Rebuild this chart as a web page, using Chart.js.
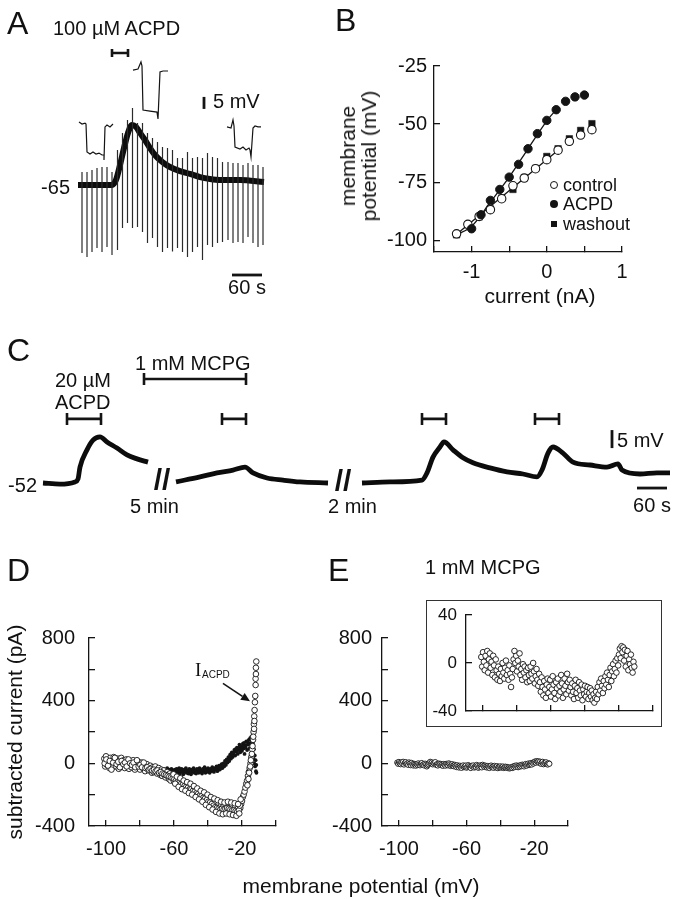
<!DOCTYPE html>
<html><head><meta charset="utf-8">
<script src="https://cdn.jsdelivr.net/npm/chart.js@4.4.1/dist/chart.umd.min.js"></script>
<style>
html,body{margin:0;padding:0;background:#fff;}
#wrap{position:relative;width:678px;height:899px;overflow:hidden;font-family:"Liberation Sans",Arial,sans-serif;color:#111;}
canvas{position:absolute;left:0;top:0;}
.t{position:absolute;line-height:1;white-space:nowrap;}
</style></head><body><div id="wrap"></div>
<script>
// ---------- Panel A : trace (time s, membrane potential mV) ----------
const aTraceT = [0, 68, 76, 84, 92, 100, 108, 116, 124, 134, 144, 154, 164, 174, 184, 204, 224, 244, 264, 284, 324, 372];
const aTraceV = [-65, -65, -62.9, -56.7, -49.6, -43.3, -40.0, -40.8, -43.3, -46.25, -49.6, -52.5, -54.6, -56.25, -57.5, -59.2, -60.4, -61.7, -62.5, -62.9, -62.9, -63.75];
const aPulseT = [8, 18, 28, 38, 48, 58, 68, 79, 89, 99, 109, 119, 129, 139, 149, 159, 169, 179, 189, 199, 209, 219, 229, 239, 249, 259, 269, 279, 289, 300, 310, 320, 330, 340, 350, 360, 370];
const aPulseMin = [-93.3, -95.0, -92.9, -91.3, -92.9, -90.8, -94.2, -92.1, -82.9, -80.8, -82.9, -82.5, -84.6, -89.2, -87.1, -90.8, -92.9, -91.3, -92.7, -91.3, -92.9, -95.0, -92.9, -90.8, -96.3, -90.0, -90.8, -89.2, -88.75, -87.9, -89.2, -88.75, -89.2, -86.7, -89.2, -90.8, -90.0];
const aPulseMax = [-59.6, -59.6, -58.75, -57.9, -57.5, -57.5, -59.6, -50.4, -43.3, -37.9, -32.9, -39.2, -39.2, -43.3, -45.4, -47.1, -49.2, -49.6, -50.4, -53.75, -53.75, -51.25, -53.75, -53.3, -53.75, -51.7, -53.3, -53.75, -55.4, -55.4, -55.8, -55.8, -56.7, -55.8, -56.7, -56.7, -57.5];
const aInset1T = [2, 8, 14, 16, 18, 24, 30, 36, 42, 48, 52, 52, 54, 58, 64, 70];
const aInset1V = [-38.75, -39.6, -39.2, -39.6, -51.25, -52.1, -51.25, -52.1, -51.7, -52.5, -52.5, -54.6, -40.8, -40.0, -40.8, -39.6];
const aInset2T = [110, 120, 126, 128, 130, 144, 158, 160, 164, 170, 180];
const aInset2V = [-17.1, -16.7, -13.75, -15.4, -33.75, -34.2, -34.6, -37.5, -17.9, -17.5, -17.5];
const aInset3T = [298, 306, 310, 312, 314, 324, 330, 336, 342, 344, 346, 350, 354, 360, 366];
const aInset3V = [-40.8, -41.25, -37.9, -40.4, -49.2, -50, -49.2, -50.4, -49.6, -50.4, -53.3, -41.25, -40.4, -40.8, -40.8];
const aDrugStart = [68], aDrugEnd = [100], aDrugLevel = [-10];
const aScaleT = [308, 368], aScaleTLevel = -102.5;
const aScaleV = [-33.3, -28.3], aScaleVTime = 252;

// ---------- Panel B : I-V ----------
const bCurrentCtl = [-1.2, -1.05, -0.9, -0.75, -0.6, -0.45, -0.3, -0.15, 0, 0.15, 0.3, 0.45, 0.6];
const bControl = [-97.2, -93.1, -89.7, -86.8, -82.1, -76.5, -73.2, -69.2, -65.3, -61.2, -57.4, -54.7, -52.4];
const bWashout = [-97.6, -93.3, -89.9, -86.5, -81.8, -78.1, -73.0, -69.0, -63.9, -60.6, -56.3, -52.7, -49.8];
const bCurrentAcpd = [-1.0, -0.875, -0.75, -0.625, -0.5, -0.375, -0.25, -0.125, 0, 0.125, 0.25, 0.375, 0.5];
const bAcpd = [-95.0, -89.0, -82.8, -78.1, -72.8, -67.3, -60.6, -54.1, -48.4, -43.8, -40.2, -38.3, -37.5];
const bFitAcpdX = [-1.2, -1.0, -0.75, -0.5, -0.25, 0, 0.125];
const bFitAcpdY = [-97.6, -94, -83.5, -72.8, -60.6, -48.6, -43.8];
const bFitCtlX = [-1.2, 0.15];
const bFitCtlY = [-97.4, -61.2];
const bXTicks = [-1.5, -1, -0.5, 0, 0.5, 1], bXLabels = [-1, 0, 1];
const bYTicks = [-100, -75, -50, -25], bYLabels = [-100, -75, -50, -25];

// ---------- Panel C : traces (display time s, mV) ----------
const cT1 = [6, 40, 70, 76, 80, 94, 106, 120, 134, 154, 174, 194, 216];
const cV1 = [-52, -52.3, -51.7, -50.9, -47.6, -42.8, -40.1, -39.2, -40.6, -42.3, -44.2, -45.3, -46.2];
const cT2 = [272, 320, 354, 386, 410, 426, 454, 486, 520, 576];
const cV2 = [-51.7, -50.3, -49.2, -48.4, -47.6, -49.2, -50.6, -51.2, -51.7, -52];
const cT3 = [644, 700, 764, 774, 786, 800, 808, 826, 846, 866, 900, 934, 966, 994, 1004, 1016, 1026, 1046, 1066, 1100, 1134, 1156, 1164, 1200, 1234, 1260];
const cV3 = [-52, -51.7, -51.2, -49.2, -44.8, -42, -40.6, -42.8, -45, -46.4, -47.8, -48.9, -49.5, -50.3, -48.4, -43.7, -42, -43.7, -46.2, -47, -47.6, -46.7, -48.4, -49.5, -49.2, -49.2];
const cBarStart = [54, 208, 364, 764, 990];
const cBarEnd = [122, 412, 412, 812, 1038];
const cBarLevel = [-34.2, -23.1, -34.2, -34.2, -34.2];
const cScaleT = [1194, 1254], cScaleTLevel = -53.4;
const cScaleV = [-42.3, -37.3], cScaleVTime = 1144;

// ---------- Panel D : subtracted current vs potential ----------
const dOpen = [[-101,30],[-100.5,-20],[-100,45],[-99.5,-10],[-99,10],[-98,-30],[-97.5,35],[-97,0],[-96,-25],[-95.5,40],
[-95,15],[-94,-20],[-93,30],[-92.5,-35],[-92,5],[-91,35],[-90,-15],[-89.5,20],[-89,-30],[-88,25],
[-87,-5],[-86.5,-35],[-86,15],[-85,-25],[-84,20],[-83,-40],[-82.5,0],[-82,-15],[-81,10],[-80,-40],
[-79,5],[-78,-35],[-77.5,-10],[-77,-50],[-76,-5],[-75,-45],[-74,-15],[-73,-60],[-72.5,-25],[-72,-55],
[-71,-20],[-70,-65],[-69,-30],[-68,-75],[-67.5,-40],[-67,-80],[-66,-45],[-65,-90],[-64,-55],[-63,-100],
[-62.5,-65],[-62,-110],[-61,-75],[-60,-115],[-59,-85],[-58,-130],[-57.5,-95],[-57,-140],[-56,-105],[-55,-150],
[-54,-120],[-53,-160],[-52.5,-130],[-52,-170],[-51,-140],[-50,-180],[-49,-150],[-48,-195],[-47.5,-165],[-47,-205],
[-46,-175],[-45,-215],[-44,-190],[-43,-230],[-42.5,-200],[-42,-240],[-41,-215],[-40,-255],[-39,-230],[-38,-270],
[-37.5,-245],[-37,-285],[-36,-255],[-35,-300],[-34,-265],[-33,-310],[-32.5,-270],[-32,-305],[-31,-275],[-30,-315],
[-29,-270],[-28,-300],[-27.5,-265],[-27,-310],[-26,-275],[-25,-320],[-24,-280],[-23,-325],[-22.5,-290],[-22,-315],
[-21,-285],[-20.5,-260],[-20,-240],[-19.5,-215],[-19,-200],[-18.5,-180],[-18,-155],[-17.5,-130],[-17,-110],[-16.5,-80],
[-16,-55],[-15.5,-30],[-15,0],[-14.5,40],[-14,90],[-13.5,150],[-13.2,200],[-13,250],[-12.8,300],[-12.6,340],
[-12.4,390],[-12.2,430],[-12,500],[-12,540],[-11.8,570],[-11.8,610],[-11.6,650],
[-100.8,0],[-99.8,25],[-98.8,-15],[-97.8,15],[-96.8,-40],[-95.8,5],[-94.8,35],[-93.8,-5],[-92.8,10],[-91.8,-25],
[-90.8,15],[-89.8,-5],[-88.8,5],[-87.8,-20],[-86.8,25],[-85.8,0],[-84.8,-10],[-83.8,5],[-82.8,-25],[-81.8,20],
[-80.8,-20],[-79.8,-10],[-78.8,-25],[-77.8,5],[-76.8,-30],[-75.8,-25],[-74.8,-40],[-73.8,-35],[-72.8,-45],[-71.8,-40],
[-70.8,-50],[-69.8,-45],[-68.8,-60],[-67.8,-55],[-66.8,-65],[-65.8,-70],[-64.8,-75],[-63.8,-80],[-62.8,-85],[-61.8,-90],
[-60.8,-95],[-59.8,-100],[-58.8,-110],[-57.8,-115],[-56.8,-120],[-55.8,-130],[-54.8,-135],[-53.8,-145],[-52.8,-150],[-51.8,-155],
[-50.8,-165],[-49.8,-165],[-48.8,-175],[-47.8,-180],[-46.8,-190],[-45.8,-195],[-44.8,-205],[-43.8,-210],[-42.8,-220],[-41.8,-225],
[-40.8,-235],[-39.8,-245],[-38.8,-250],[-37.8,-260],[-36.8,-270],[-35.8,-280],[-34.8,-285],[-33.8,-290],[-32.8,-295],[-31.8,-290],
[-30.8,-295],[-29.8,-290],[-28.8,-285],[-27.8,-290],[-26.8,-295],[-25.8,-300],[-24.8,-300],[-23.8,-305],[-22.8,-310],[-21.8,-300],
[-21.3,-270],[-16.8,-140],[-16.2,-100],[-15.8,-60],[-15.2,-20],[-14.8,20],[-14.2,60],[-13.8,110],[-13.4,170],[-12.9,220],[-12.7,270],
[-60.3,-70],[-58.3,-85],[-56.3,-95],[-54.3,-110],[-52.3,-120],[-50.3,-130],[-48.3,-145],[-46.3,-160],[-44.3,-175],[-42.3,-185],
[-40.3,-200],[-38.3,-215],[-36.3,-225],[-34.3,-235],[-32.3,-245],[-30.3,-250],[-28.3,-245],[-26.3,-250],[-24.3,-255],[-22.3,-260],[-20.8,-230],
[-59.3,-130],[-57.3,-150],[-55.3,-165],[-53.3,-175],[-51.3,-190],[-49.3,-200],[-47.3,-215],[-45.3,-230],[-43.3,-245],[-41.3,-265],
[-39.3,-280],[-37.3,-295],[-35.3,-310],[-33.3,-320],[-31.3,-325],[-29.3,-320],[-27.3,-325],[-25.3,-330],[-23.3,-335],[-21.6,-320]];
const dFilled = [[-66,-35],[-65.5,-55],[-65,-40],[-64.5,-60],[-64,-30],[-63.5,-50],[-63,-65],[-62.5,-40],[-62,-55],[-61.5,-35],
[-61,-60],[-60.5,-45],[-60,-70],[-59.5,-40],[-59,-55],[-58.5,-35],[-58,-60],[-57.5,-45],[-57,-30],[-56.5,-65],
[-56,-50],[-55.5,-35],[-55,-55],[-54.5,-70],[-54,-40],[-53.5,-55],[-53,-30],[-52.5,-60],[-52,-45],[-51.5,-65],
[-51,-35],[-50.5,-50],[-50,-70],[-49.5,-40],[-49,-55],[-48.5,-30],[-48,-60],[-47.5,-45],[-47,-65],[-46.5,-35],
[-46,-50],[-45.5,-60],[-45,-30],[-44.5,-55],[-44,-45],[-43.5,-65],[-43,-35],[-42.5,-50],[-42,-25],[-41.5,-60],
[-41,-40],[-40.5,-55],[-40,-30],[-39.5,-45],[-39,-60],[-38.5,-35],[-38,-50],[-37.5,-25],[-37,-45],[-36.5,-55],
[-36,-30],[-35.5,-40],[-35,-20],[-34.5,-50],[-34,-30],[-33.5,-15],[-33,-40],[-32.5,-25],[-32,-5],[-31.5,-30],
[-31,0],[-30.5,-20],[-30,15],[-29.5,-10],[-29,25],[-28.5,5],[-28,40],[-27.5,15],[-27,55],[-26.5,30],
[-26,70],[-25.5,40],[-25,60],[-24.5,85],[-24,50],[-23.5,75],[-23,100],[-22.5,60],[-22,90],[-21.5,120],
[-21,70],[-20.5,105],[-20,80],[-19.5,125],[-19,95],[-18.5,60],[-18,115],[-17.5,140],[-17,85],[-16.5,120],
[-16,150],[-15.5,95],[-15,130],[-14.5,170],[-14,100],[-13.8,60],[-13.5,130],[-13.2,30],[-13,90],[-12.8,0],
[-12.5,50],[-12.3,-20],[-12,20],[-11.8,-50],[-11.6,-10],[-11.5,-60],
[-65.8,-50],[-64.8,-45],[-63.8,-40],[-62.8,-55],[-61.8,-45],[-60.8,-55],[-59.8,-50],[-58.8,-45],[-57.8,-50],[-56.8,-40],
[-55.8,-45],[-54.8,-50],[-53.8,-45],[-52.8,-50],[-51.8,-50],[-50.8,-45],[-49.8,-55],[-48.8,-45],[-47.8,-50],[-46.8,-55],
[-45.8,-40],[-44.8,-45],[-43.8,-50],[-42.8,-40],[-41.8,-45],[-40.8,-45],[-39.8,-50],[-38.8,-40],[-37.8,-40],[-36.8,-40],
[-35.8,-35],[-34.8,-35],[-33.8,-25],[-32.8,-30],[-31.8,-15],[-30.8,-10],[-29.8,5],[-28.8,15],[-27.8,25],[-26.8,45],
[-25.8,55],[-24.8,70],[-23.8,90],[-22.8,80],[-21.8,100],[-20.8,90],[-19.8,110],[-18.8,130],[-17.8,100],[-16.8,135],
[-15.8,120],[-15.2,160],[-14.2,140],[-13.6,100]];
const dArrowFrom = [-31.2, 510], dArrowTo = [-15.3, 396];

// ---------- Panel E : MCPG (main + inset share the same points) ----------
const eMcpg = [[-101,5],[-100.5,-3],[-100,9],[-99.5,1],[-99,-6],[-98.5,6],[-98,-2],[-97.5,10],[-97,-8],[-96.5,3],
[-96,8],[-95.5,-4],[-95,1],[-94.5,-10],[-94,6],[-93.5,-2],[-93,-12],[-92.5,3],[-92,-6],[-91.5,-14],
[-91,-3],[-90.5,-9],[-90,-15],[-89.5,-5],[-89,-11],[-88.5,0],[-88,-8],[-87.5,-13],[-87,-4],[-86.5,2],
[-86,-10],[-85.5,-6],[-85,-14],[-84.5,-2],[-84,-9],[-83.5,-20],[-83,-12],[-82.5,-5],[-82,3],[-81.5,10],
[-81,0],[-80.5,6],[-80,-7],[-79.5,2],[-79,-3],[-78.5,8],[-78,-10],[-77.5,-5],[-77,-14],[-76.5,-1],
[-76,-8],[-75.5,-3],[-75,-12],[-74.5,-6],[-74,-16],[-73.5,-4],[-73,-10],[-72.5,-15],[-72,-3],[-71.5,-9],
[-71,-13],[-70.5,0],[-70,-7],[-69.5,-17],[-69,-11],[-68.5,-5],[-68,-14],[-67.5,-19],[-67,-9],[-66.5,-16],
[-66,-24],[-65.5,-12],[-65,-20],[-64.5,-27],[-64,-15],[-63.5,-22],[-63,-29],[-62.5,-18],[-62,-13],[-61.5,-25],
[-61,-20],[-60.5,-14],[-60,-28],[-59.5,-22],[-59,-11],[-58.5,-18],[-58,-25],[-57.5,-30],[-57,-16],[-56.5,-21],
[-56,-13],[-55.5,-27],[-55,-19],[-54.5,-24],[-54,-10],[-53.5,-17],[-53,-29],[-52.5,-22],[-52,-13],[-51.5,-19],
[-51,-26],[-50.5,-9],[-50,-16],[-49.5,-23],[-49,-14],[-48.5,-20],[-48,-27],[-47.5,-17],[-47,-24],[-46.5,-30],
[-46,-19],[-45.5,-14],[-45,-25],[-44.5,-21],[-44,-29],[-43.5,-16],[-43,-23],[-42.5,-27],[-42,-18],[-41.5,-31],
[-41,-22],[-40.5,-26],[-40,-19],[-39.5,-28],[-39,-24],[-38.5,-20],[-38,-30],[-37.5,-25],[-37,-21],[-36.5,-28],
[-36,-23],[-35.5,-31],[-35,-26],[-34.5,-33],[-34,-29],[-33.5,-24],[-33,-30],[-32.5,-20],[-32,-26],[-31.5,-16],
[-31,-23],[-30.5,-13],[-30,-19],[-29.5,-25],[-29,-15],[-28.5,-21],[-28,-11],[-27.5,-18],[-27,-8],[-26.5,-14],
[-26,-20],[-25.5,-10],[-25,-4],[-24.5,-15],[-24,-7],[-23.5,-1],[-23,-11],[-22.5,-5],[-22,2],[-21.5,-8],
[-21,4],[-20.5,-2],[-20,7],[-19.5,12],[-19,4],[-18.5,14],[-18,9],[-17.5,13],[-17,2],[-16.5,11],
[-16,-3],[-15.5,6],[-15,10],[-14.5,-6],[-14,3],[-13.5,-1],[-13,7],[-12.5,-4],[-12,-8],[-11.5,1],[-11,-3]];
const deXTicks = [-100, -80, -60, -40, -20, 0], deXLabels = [-100, -60, -20];
const deYTicks = [-400, -200, 0, 200, 400, 600, 800], deYLabels = [-400, 0, 400, 800];
const inXTicks = [-100, -80, -60, -40, -20, 0], inXLabels = [];
const inYTicks = [-40, 0, 40], inYLabels = [-40, 0, 40];

// ---------- helpers ----------
const FONT = '"Liberation Sans", Arial, sans-serif';
const INK = '#141414';
const wrap = document.getElementById('wrap');
const pts = (xs, ys) => xs.map((x, i) => ({x: x, y: ys[i]}));
const pairs = arr => arr.map(p => ({x: p[0], y: p[1]}));
function barPts(s, e, L, c) {
  return [{x:s,y:L-c},{x:s,y:L+c},{x:s,y:null},{x:s,y:L},{x:e,y:L},{x:e,y:null},{x:e,y:L-c},{x:e,y:L+c},{x:e,y:null}];
}
function lineDs(data, w, color, extra) {
  return Object.assign({data: data, showLine: true, borderColor: color || INK, borderWidth: w, pointRadius: 0, clip: false, spanGaps: false}, extra || {});
}
function hid(min, max) { return {type: 'linear', display: false, min: min, max: max}; }
function ax(min, max, ticks, labels, o) {
  return {
    type: 'linear', min: min, max: max,
    afterBuildTicks: s => { s.ticks = ticks.map(v => ({value: v})); },
    afterFit: s => { if (o.W !== undefined) s.width = o.W; if (o.H !== undefined) s.height = o.H; },
    border: {display: true, color: INK, width: 1.3},
    grid: {display: true, drawOnChartArea: false, drawTicks: true, tickLength: -6, color: INK, lineWidth: 1.3},
    ticks: {autoSkip: false, maxRotation: 0, minRotation: 0, padding: o.pad, color: '#111',
      font: {family: FONT, size: o.size || 20}, callback: v => labels.includes(v) ? String(v) : ''}
  };
}
function mk(pad, scales, datasets, plugins) {
  const c = document.createElement('canvas');
  c.width = 678; c.height = 899; c.style.width = '678px'; c.style.height = '899px';
  wrap.appendChild(c);
  return new Chart(c, {type: 'scatter', data: {datasets: datasets},
    options: {responsive: false, animation: false, events: [], devicePixelRatio: 1,
      layout: {padding: pad}, plugins: {legend: {display: false}, tooltip: {enabled: false}}, scales: scales},
    plugins: plugins || []});
}
function T(txt, x, yc, size, align, extra) {
  const d = document.createElement('div');
  d.className = 't'; d.textContent = txt;
  d.style.fontSize = size + 'px';
  d.style.top = (yc - 0.4885 * size) + 'px';
  if (align === 'right') d.style.right = (678 - x) + 'px';
  else if (align === 'center') { d.style.left = x + 'px'; d.style.transform = 'translateX(-50%)'; }
  else d.style.left = x + 'px';
  if (extra) Object.assign(d.style, extra);
  wrap.appendChild(d); return d;
}
function R(html, cx, cy, size, lh) {
  const d = document.createElement('div');
  d.className = 't'; d.innerHTML = html;
  d.style.fontSize = size + 'px'; d.style.lineHeight = (lh || size) + 'px'; d.style.textAlign = 'center';
  d.style.left = cx + 'px'; d.style.top = cy + 'px';
  d.style.transform = 'translate(-50%,-50%) rotate(-90deg)';
  wrap.appendChild(d); return d;
}

// ---------- Panel A ----------
const pulsePts = [];
aPulseT.forEach((t, i) => { pulsePts.push({x:t,y:aPulseMin[i]}, {x:t,y:aPulseMax[i]}, {x:t,y:null}); });
mk({left: 78, top: 41, right: 414, bottom: 606},
  {x: hid(0, 372), y: hid(-110, -5)},
  [
    lineDs(pulsePts, 1.2, '#2b2b2b', {order: 0}),
    lineDs(pts(aTraceT, aTraceV), 6, '#0c0c0c', {order: 1, cubicInterpolationMode: 'monotone'}),
    lineDs(pts(aInset1T, aInset1V), 1.2, INK, {order: 2}),
    lineDs(pts(aInset2T, aInset2V), 1.2, INK, {order: 2}),
    lineDs(pts(aInset3T, aInset3V), 1.2, INK, {order: 2}),
    lineDs(barPts(aDrugStart[0], aDrugEnd[0], aDrugLevel[0], 1.7), 2.6, INK, {order: 2}),
    lineDs(pts(aScaleT, [aScaleTLevel, aScaleTLevel]), 2.8, INK, {order: 2}),
    lineDs(pts([aScaleVTime, aScaleVTime], aScaleV), 2.8, INK, {order: 2})
  ]);

// ---------- Panel B ----------
mk({left: 374, top: 66, right: 56, bottom: 607},
  {x: ax(-1.5, 1, bXTicks, bXLabels, {H: 40, pad: 14}),
   y: ax(-105, -25, bYTicks, bYLabels, {W: 60, pad: 13})},
  [
    {data: pts(bCurrentAcpd, bAcpd), pointRadius: 4.2, pointBackgroundColor: INK, pointBorderColor: INK, pointBorderWidth: 1, order: 0},
    {data: pts(bCurrentCtl, bControl), pointRadius: 4.2, pointBackgroundColor: '#fff', pointBorderColor: INK, pointBorderWidth: 1.1, order: 1},
    {data: pts(bCurrentCtl, bWashout), pointStyle: 'rect', pointRadius: 4.6, pointBackgroundColor: INK, pointBorderColor: INK, pointBorderWidth: 0.5, order: 2},
    lineDs(pts(bFitAcpdX, bFitAcpdY), 1.3, INK, {order: 3, tension: 0.3}),
    lineDs(pts(bFitCtlX, bFitCtlY), 1.3, INK, {order: 3})
  ]);

// ---------- Panel C ----------
const cTrace = pts(cT1, cV1).concat([{x: cT1[cT1.length-1], y: null}], pts(cT2, cV2), [{x: cT2[cT2.length-1], y: null}], pts(cT3, cV3));
const cBars = [];
cBarStart.forEach((s, i) => { cBars.push.apply(cBars, barPts(s, cBarEnd[i], cBarLevel[i], 1.67)); });
mk({left: 40, top: 339, right: 3, bottom: 380},
  {x: hid(0, 1270), y: hid(-62, -12)},
  [
    lineDs(cTrace, 4.8, '#0c0c0c', {cubicInterpolationMode: 'monotone'}),
    lineDs(cBars, 2.6, INK),
    lineDs(pts(cScaleT, [cScaleTLevel, cScaleTLevel]), 2.8, INK),
    lineDs(pts([cScaleVTime, cScaleVTime], cScaleV), 2.8, INK)
  ]);

// ---------- Panel D ----------
const arrowPlugin = {
  id: 'arrowD',
  afterDatasetsDraw(chart) {
    const xs = chart.scales.x, ys = chart.scales.y, ctx = chart.ctx;
    const x1 = xs.getPixelForValue(dArrowFrom[0]), y1 = ys.getPixelForValue(dArrowFrom[1]);
    const x2 = xs.getPixelForValue(dArrowTo[0]), y2 = ys.getPixelForValue(dArrowTo[1]);
    const a = Math.atan2(y2 - y1, x2 - x1), L = 9, Wd = 4;
    const bx = x2 - L * Math.cos(a), by = y2 - L * Math.sin(a);
    ctx.save(); ctx.strokeStyle = INK; ctx.fillStyle = INK; ctx.lineWidth = 1.6;
    ctx.beginPath(); ctx.moveTo(x1, y1); ctx.lineTo(bx, by); ctx.stroke();
    ctx.beginPath(); ctx.moveTo(x2, y2);
    ctx.lineTo(bx + Wd * Math.sin(a), by - Wd * Math.cos(a));
    ctx.lineTo(bx - Wd * Math.sin(a), by + Wd * Math.cos(a));
    ctx.closePath(); ctx.fill(); ctx.restore();
  }
};
mk({left: 29, top: 638, right: 402, bottom: 33},
  {x: ax(-110, 0, deXTicks, deXLabels, {H: 40, pad: 17}),
   y: ax(-400, 800, deYTicks, deYLabels, {W: 60, pad: 20})},
  [
    {data: pairs(dOpen), pointRadius: 2.8, pointBackgroundColor: '#fff', pointBorderColor: INK, pointBorderWidth: 0.9, order: 0},
    {data: pairs(dFilled), pointRadius: 1.9, pointBackgroundColor: INK, pointBorderWidth: 0, order: 1}
  ], [arrowPlugin]);

// ---------- Panel E ----------
mk({left: 322, top: 638, right: 110, bottom: 33},
  {x: ax(-110, 0, deXTicks, deXLabels, {H: 40, pad: 17}),
   y: ax(-400, 800, deYTicks, deYLabels, {W: 60, pad: 16})},
  [
    {data: pairs(eMcpg), pointRadius: 2.6, pointBackgroundColor: '#fff', pointBorderColor: INK, pointBorderWidth: 0.9}
  ]);

// inset box
const box = document.createElement('div');
Object.assign(box.style, {position: 'absolute', left: '426px', top: '600px', width: '236px', height: '127px', border: '1.5px solid #333', boxSizing: 'border-box'});
wrap.appendChild(box);
mk({left: 426, top: 615, right: 25, bottom: 178},
  {x: ax(-110, 0, inXTicks, inXLabels, {H: 10, pad: 4, size: 17}),
   y: ax(-40, 40, inYTicks, inYLabels, {W: 40, pad: 15, size: 17})},
  [
    {data: pairs(eMcpg), pointRadius: 2.8, pointBackgroundColor: '#fff', pointBorderColor: INK, pointBorderWidth: 0.9}
  ]);

// ---------- texts ----------
T('A', 7, 23, 32);
T('100 µM ACPD', 53, 28, 20);
T('5 mV', 213, 101, 20);
T('-65', 70, 187, 20, 'right');
T('60 s', 247, 287, 20, 'center');
T('B', 335, 20, 32);
R('membrane<br>potential (mV)', 358, 156, 21, 21);
T('current (nA)', 540, 295, 21, 'center');
T('control', 563, 185, 18); T('ACPD', 563, 204, 18); T('washout', 563, 224, 18);
function sym(cx, cy, css) {
  const d = document.createElement('div');
  Object.assign(d.style, {position: 'absolute', boxSizing: 'border-box'}, css);
  d.style.left = (cx - parseFloat(css.width) / 2) + 'px';
  d.style.top = (cy - parseFloat(css.height) / 2) + 'px';
  wrap.appendChild(d);
}
sym(554, 185, {width: '8.4px', height: '8.4px', borderRadius: '50%', border: '1.1px solid #141414', background: '#fff'});
sym(554, 204, {width: '8.4px', height: '8.4px', borderRadius: '50%', background: '#141414'});
sym(554, 224, {width: '6.5px', height: '6.5px', background: '#141414'});
T('C', 7, 350, 32);
T('20 µM', 55, 380, 20); T('ACPD', 55, 402, 20);
T('1 mM MCPG', 135, 363, 20);
T('-52', 37, 485, 20, 'right');
T('5 min', 130, 506, 20);
T('2 min', 328, 506, 20);
T('//', 162, 480, 30, 'center', {fontWeight: 'bold'});
T('//', 343, 481, 30, 'center', {fontWeight: 'bold'});
T('5 mV', 617, 440, 20);
T('60 s', 652, 505, 20, 'center');
T('D', 7, 570, 32);
T('E', 328, 570, 32);
T('1 mM MCPG', 425, 567, 20);
R('subtracted current (pA)', 14, 732, 21);
T('membrane potential (mV)', 361, 885, 21, 'center');
T('I', 195, 669, 19, 'left', {fontFamily: '"Liberation Serif", "Times New Roman", serif'});
T('ACPD', 202, 675, 10);
</script></body></html>
